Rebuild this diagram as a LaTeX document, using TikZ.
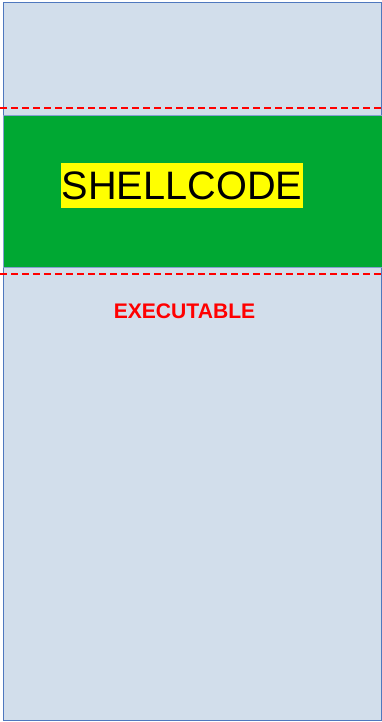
\documentclass[tikz,border=0pt]{standalone}
\usepackage{fontspec}
\setmainfont{Liberation Sans}
\definecolor{bgblue}{RGB}{210,222,235}
\definecolor{edgeblue}{RGB}{79,120,190}
\definecolor{shgreen}{RGB}{0,168,51}
\definecolor{hiyellow}{RGB}{255,255,0}
\definecolor{lblred}{RGB}{255,0,0}
\tikzset{
  panel/.style={fill=bgblue,draw=edgeblue,line width=1pt},
  band/.style={fill=shgreen,draw=edgeblue!70,line width=0.6pt},
  bound/.style={draw=lblred,line width=2pt,dash pattern=on 7pt off 4pt},
  hilite/.style={fill=hiyellow,inner sep=0pt,minimum width=242pt,minimum height=45pt,font=\fontsize{39.7}{39.7}\selectfont},
  tag/.style={text=lblred,font=\bfseries\fontsize{21.1}{21.1}\selectfont,inner sep=0pt}
}
\begin{document}
\begin{tikzpicture}[x=1pt,y=-1pt]
\useasboundingbox (0,0) rectangle (382,722);
\draw[panel] (3.5,2.5) rectangle (381,720);
\draw[band] (3.5,115) rectangle (382,267);
\draw[bound] (0,108) -- (382,108);
\draw[bound] (0,274) -- (382,274);
\node[hilite] (sc) at (182,185.5) {SHELLCODE};
\node[tag] (ex) at (184.5,311) {EXECUTABLE};
\end{tikzpicture}
\end{document}
